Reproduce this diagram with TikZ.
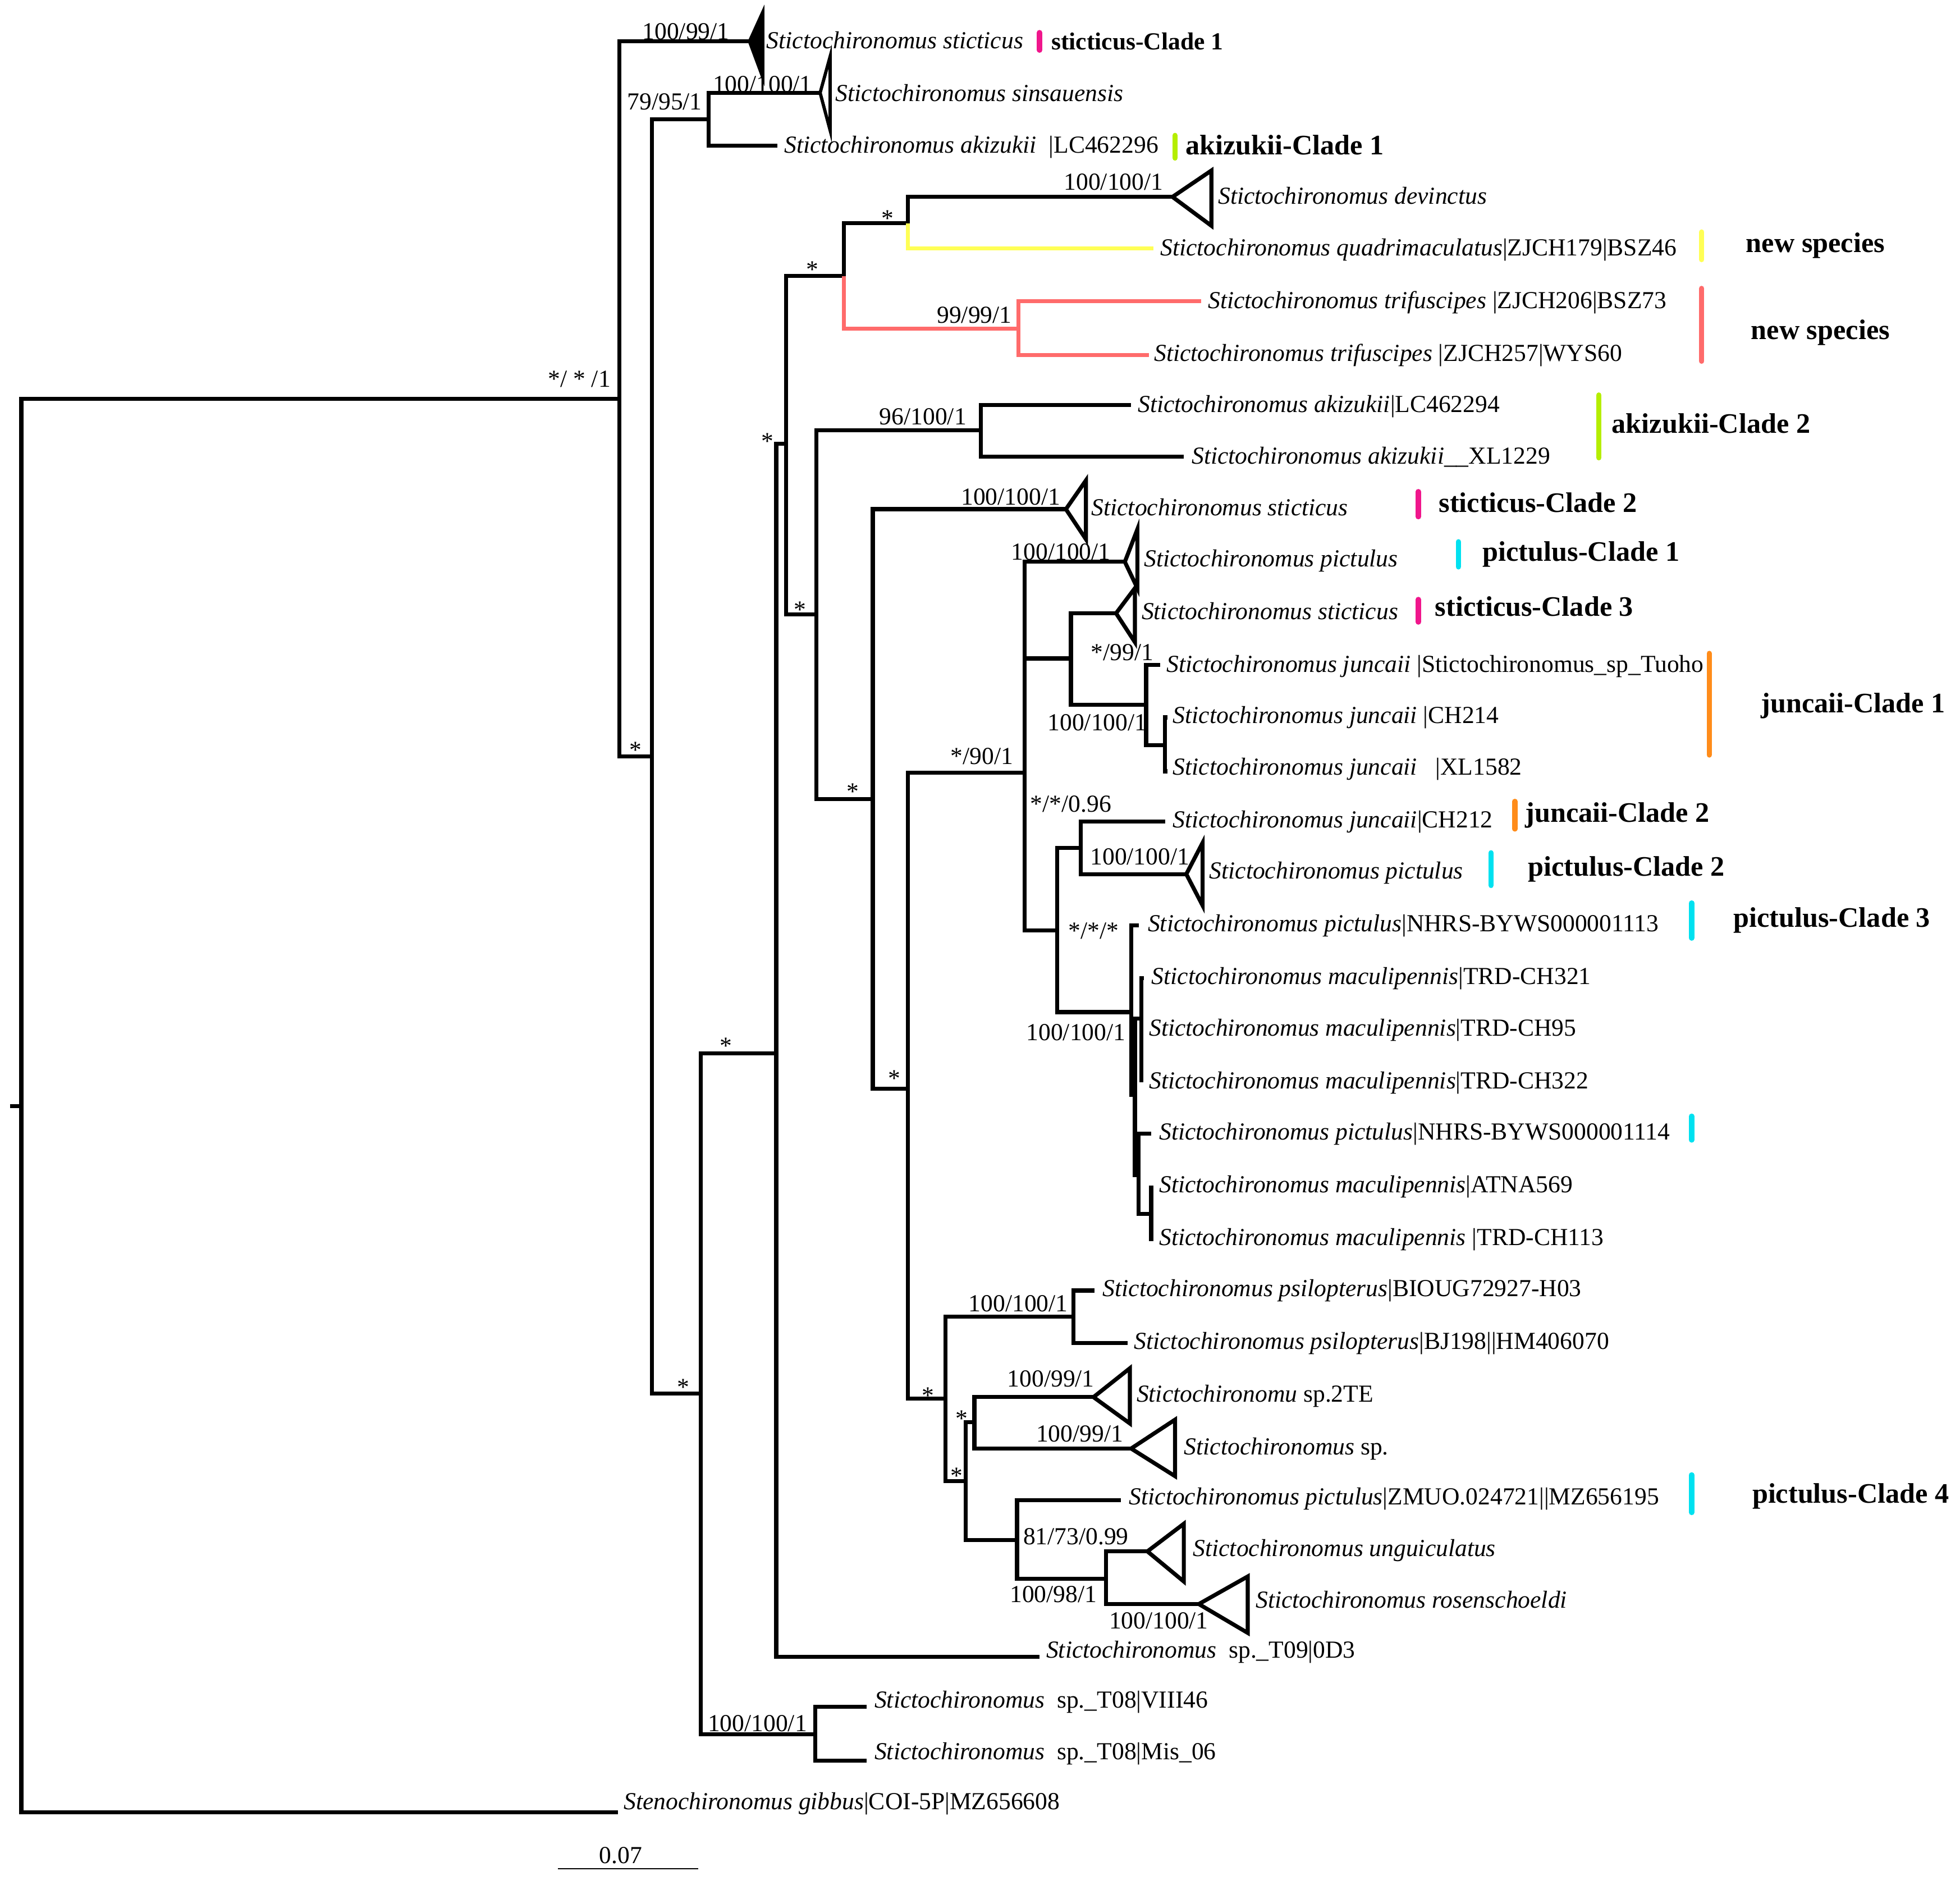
\documentclass[tikz,border=0pt]{standalone}
\usepackage{fontspec}
\setmainfont{Liberation Serif}
\definecolor{cmag}{HTML}{F0168C}
\definecolor{cgreen}{HTML}{B5EE00}
\definecolor{cyel}{HTML}{FFFF55}
\definecolor{cred}{HTML}{FF6B6B}
\definecolor{ccyan}{HTML}{00E1F0}
\definecolor{corange}{HTML}{FF8C1A}
\begin{document}
\begin{tikzpicture}[x=0.5pt,y=-0.5pt,
  br/.style={line width=1.6pt},
  tri/.style={line width=1.6pt, line join=miter},
  cbar/.style={line width=2.1pt, line cap=round},
  tx/.style={anchor=base west, yshift=-2.95pt, inner sep=0pt, font=\fontsize{9.75}{11}\selectfont},
  bs/.style={anchor=base, yshift=-3.3pt, inner sep=0pt, font=\fontsize{9.75}{11}\selectfont},
  st/.style={anchor=base, yshift=-5.2pt, inner sep=0pt, font=\fontsize{9.75}{11}\selectfont},
  cl/.style={anchor=base west, yshift=-3.7pt, inner sep=0pt, font=\fontsize{11.25}{13}\selectfont\bfseries},
  cls/.style={anchor=base west, yshift=-3.2pt, inner sep=0pt, font=\fontsize{9.75}{11}\selectfont\bfseries}]
\useasboundingbox (0,0) rectangle (1563,1502.6);
% internal nodes
\coordinate (rt) at (8,882);
\coordinate (R) at (17,882);
\coordinate (A) at (494,318);
\coordinate (B) at (520,603);
\coordinate (C) at (565,95);
\coordinate (D) at (559,1111);
\coordinate (E) at (619,840);
\coordinate (F) at (650,1383);
\coordinate (G) at (627,354);
\coordinate (H) at (673,220);
\coordinate (J) at (724,178);
\coordinate (K) at (812,262);
\coordinate (I) at (651,490);
\coordinate (L) at (782,343);
\coordinate (M) at (696,637);
\coordinate (N) at (724,868);
\coordinate (O) at (817,616);
\coordinate (Q) at (854,525);
\coordinate (S) at (914,562);
\coordinate (U) at (929,594);
\coordinate (V0) at (843,742);
\coordinate (V) at (862,676);
\coordinate (MN) at (902,807);
\coordinate (B1) at (905,873);
\coordinate (A1) at (910,812);
\coordinate (C1) at (908,937);
\coordinate (D1) at (918,968);
\coordinate (P) at (754,1115);
\coordinate (W) at (856,1050);
\coordinate (X) at (770,1181);
\coordinate (Y) at (777,1134);
\coordinate (Z) at (811,1228);
\coordinate (AA) at (882,1259);
% tips
\coordinate (t1) at (598,33);
\coordinate (t2) at (654,74);
\coordinate (l3) at (620,116);
\coordinate (t4) at (935,157);
\coordinate (l5) at (920,198);
\coordinate (l6) at (958,240);
\coordinate (l7) at (916,283);
\coordinate (l8) at (902,323);
\coordinate (l9) at (944,364);
\coordinate (t10) at (850,406);
\coordinate (t11) at (897,448);
\coordinate (t12) at (890,489);
\coordinate (l13) at (925,530);
\coordinate (l14) at (931,572);
\coordinate (l15) at (931,615);
\coordinate (l16) at (929,655);
\coordinate (t17) at (946,697);
\coordinate (l18) at (908,738);
\coordinate (l19) at (912,780);
\coordinate (l20) at (910,820);
\coordinate (l21) at (910,863);
\coordinate (l22) at (918,904);
\coordinate (l23) at (920,947);
\coordinate (l24) at (920,988);
\coordinate (l25) at (873,1029);
\coordinate (l26) at (899,1071);
\coordinate (t27) at (872,1114);
\coordinate (t28) at (902,1155);
\coordinate (l29) at (894,1196);
\coordinate (t30) at (915,1237);
\coordinate (t31) at (956,1279);
\coordinate (l32) at (829,1321);
\coordinate (l33) at (691,1361);
\coordinate (l34) at (691,1404);
\coordinate (l35) at (493,1445);
% branches
\draw[br] (rt) -- (R);
\draw[br] (R) |- (A);
\draw[br] (R) |- (l35);
\draw[br] (A) |- (t1);
\draw[br] (A) |- (B);
\draw[br] (B) |- (C);
\draw[br] (B) |- (D);
\draw[br] (C) |- (t2);
\draw[br] (C) |- (l3);
\draw[br] (D) |- (E);
\draw[br] (D) |- (F);
\draw[br] (F) |- (l33);
\draw[br] (F) |- (l34);
\draw[br] (E) |- (G);
\draw[br] (E) |- (l32);
\draw[br] (G) |- (H);
\draw[br] (G) |- (I);
\draw[br] (H) |- (J);
\draw[br,cred] (H) |- (K);
\draw[br,cred] (K) |- (l6);
\draw[br,cred] (K) |- (l7);
\draw[br] (J) |- (t4);
\draw[br,cyel] (J) |- (l5);
\draw[br] (I) |- (L);
\draw[br] (I) |- (M);
\draw[br] (L) |- (l8);
\draw[br] (L) |- (l9);
\draw[br] (M) |- (t10);
\draw[br] (M) |- (N);
\draw[br] (N) |- (O);
\draw[br] (N) |- (P);
\draw[br] (O) |- (t11);
\draw[br] (O) |- (Q);
\draw[br] (O) |- (V0);
\draw[br] (Q) |- (t12);
\draw[br] (Q) |- (S);
\draw[br] (S) |- (l13);
\draw[br] (S) |- (U);
\draw[br] (U) |- (l14);
\draw[br] (U) |- (l15);
\draw[br] (V0) |- (V);
\draw[br] (V0) |- (MN);
\draw[br] (V) |- (l16);
\draw[br] (V) |- (t17);
\draw[br] (MN) |- (l18);
\draw[br] (MN) |- (B1);
\draw[br] (B1) |- (A1);
\draw[br] (B1) |- (C1);
\draw[br] (A1) |- (l19);
\draw[br] (A1) |- (l20);
\draw[br] (A1) |- (l21);
\draw[br] (C1) |- (l22);
\draw[br] (C1) |- (D1);
\draw[br] (D1) |- (l23);
\draw[br] (D1) |- (l24);
\draw[br] (P) |- (W);
\draw[br] (P) |- (X);
\draw[br] (W) |- (l25);
\draw[br] (W) |- (l26);
\draw[br] (X) |- (Y);
\draw[br] (X) |- (Z);
\draw[br] (Y) |- (t27);
\draw[br] (Y) |- (t28);
\draw[br] (Z) |- (l29);
\draw[br] (Z) |- (AA);
\draw[br] (AA) |- (t30);
\draw[br] (AA) |- (t31);
% collapsed clades
\filldraw[tri] (t1) -- (608,11) -- (608,60) -- cycle;
\draw[tri,line width=1.3pt] (t2) -- (662,45) -- (662,104) -- cycle;
\draw[tri] (t4) -- (966,136) -- (966,180) -- cycle;
\draw[tri] (t10) -- (866,383) -- (866,430) -- cycle;
\draw[tri] (t11) -- (907,422) -- (907,469) -- cycle;
\draw[tri] (t12) -- (905,469) -- (905,512) -- cycle;
\draw[tri] (t17) -- (959,672) -- (959,722) -- cycle;
\draw[tri] (t27) -- (901,1091) -- (901,1135) -- cycle;
\draw[tri] (t28) -- (937,1132) -- (937,1177) -- cycle;
\draw[tri] (t30) -- (944,1215) -- (944,1261) -- cycle;
\draw[tri] (t31) -- (995,1257) -- (995,1302) -- cycle;
% taxon labels
\node[tx] (n1) at (611,33) {\textit{Stictochironomus sticticus}};
\node[tx] (n2) at (666,75) {\textit{Stictochironomus sinsauensis}};
\node[tx] (n3) at (625,116) {\textit{Stictochironomus akizukii}\ \ |LC462296};
\node[tx] (n4) at (971,157) {\textit{Stictochironomus devinctus}};
\node[tx] (n5) at (925,198) {\textit{Stictochironomus quadrimaculatus}|ZJCH179|BSZ46};
\node[tx] (n6) at (963,240) {\textit{Stictochironomus trifuscipes} |ZJCH206|BSZ73};
\node[tx] (n7) at (920,282) {\textit{Stictochironomus trifuscipes} |ZJCH257|WYS60};
\node[tx] (n8) at (907,323) {\textit{Stictochironomus akizukii}|LC462294};
\node[tx] (n9) at (950,364) {\textit{Stictochironomus akizukii}\_\_XL1229};
\node[tx] (n10) at (870,405) {\textit{Stictochironomus sticticus}};
\node[tx] (n11) at (912,446) {\textit{Stictochironomus pictulus}};
\node[tx] (n12) at (910,488) {\textit{Stictochironomus sticticus}};
\node[tx] (n13) at (930,530) {\textit{Stictochironomus juncaii} |Stictochironomus\_sp\_Tuoho};
\node[tx] (n14) at (935,571) {\textit{Stictochironomus juncaii} |CH214};
\node[tx] (n15) at (935,612) {\textit{Stictochironomus juncaii}\ \ \ |XL1582};
\node[tx] (n16) at (935,654) {\textit{Stictochironomus juncaii}|CH212};
\node[tx] (n17) at (964,695) {\textit{Stictochironomus pictulus}};
\node[tx] (n18) at (915,737) {\textit{Stictochironomus pictulus}|NHRS-BYWS000001113};
\node[tx] (n19) at (918,779) {\textit{Stictochironomus maculipennis}|TRD-CH321};
\node[tx] (n20) at (916,820) {\textit{Stictochironomus maculipennis}|TRD-CH95};
\node[tx] (n21) at (916,862) {\textit{Stictochironomus maculipennis}|TRD-CH322};
\node[tx] (n22) at (924,903) {\textit{Stictochironomus pictulus}|NHRS-BYWS000001114};
\node[tx] (n23) at (924,945) {\textit{Stictochironomus maculipennis}|ATNA569};
\node[tx] (n24) at (924,987) {\textit{Stictochironomus maculipennis} |TRD-CH113};
\node[tx] (n25) at (879,1028) {\textit{Stictochironomus psilopterus}|BIOUG72927-H03};
\node[tx] (n26) at (904,1070) {\textit{Stictochironomus psilopterus}|BJ198||HM406070};
\node[tx] (n27) at (906,1112) {\textit{Stictochironomu} sp.2TE};
\node[tx] (n28) at (944,1154) {\textit{Stictochironomus} sp.};
\node[tx] (n29) at (900,1194) {\textit{Stictochironomus pictulus}|ZMUO.024721||MZ656195};
\node[tx] (n30) at (951,1235) {\textit{Stictochironomus unguiculatus}};
\node[tx] (n31) at (1001,1276) {\textit{Stictochironomus rosenschoeldi}};
\node[tx] (n32) at (834,1316) {\textit{Stictochironomus}\ \ sp.\_T09|0D3};
\node[tx] (n33) at (697,1356) {\textit{Stictochironomus}\ \ sp.\_T08|VIII46};
\node[tx] (n34) at (697,1397) {\textit{Stictochironomus}\ \ sp.\_T08|Mis\_06};
\node[tx] (n35) at (497,1437) {\textit{Stenochironomus gibbus}|COI-5P|MZ656608};
% support values
\node[bs] (s1) at (547,25) {100/99/1};
\node[bs] (s2) at (608,67) {100/100/1};
\node[bs] (s3) at (530,81) {79/95/1};
\node[bs] (s4) at (888,145) {100/100/1};
\node[st] (s5) at (708,170) {*};
\node[st] (s6) at (648,211) {*};
\node[bs] (s7) at (777,251) {99/99/1};
\node[bs] (s8) at (462,302) {*/ * /1};
\node[bs] (s9) at (736,332) {96/100/1};
\node[st] (s10) at (612,348) {*};
\node[bs] (s11) at (806,396) {100/100/1};
\node[bs] (s12) at (846,440) {100/100/1};
\node[st] (s13) at (638,482) {*};
\node[bs] (s14) at (895,520) {*/99/1};
\node[bs] (s15) at (875,576) {100/100/1};
\node[st] (s16) at (507,594) {*};
\node[bs] (s17) at (783,603) {*/90/1};
\node[st] (s18) at (680,627) {*};
\node[bs] (s19) at (854,641) {*/*/0.96};
\node[bs] (s20) at (909,683) {100/100/1};
\node[bs] (s21) at (872,742) {*/*/*};
\node[bs] (s22) at (858,823) {100/100/1};
\node[st] (s23) at (579,830) {*};
\node[st] (s24) at (713,856) {*};
\node[bs] (s25) at (812,1039) {100/100/1};
\node[bs] (s26) at (838,1099) {100/99/1};
\node[st] (s27) at (545,1102) {*};
\node[st] (s28) at (740,1109) {*};
\node[st] (s29) at (767,1127) {*};
\node[bs] (s30) at (861,1143) {100/99/1};
\node[st] (s31) at (763,1173) {*};
\node[bs] (s32) at (858,1225) {81/73/0.99};
\node[bs] (s33) at (840,1271) {100/98/1};
\node[bs] (s34) at (924,1292) {100/100/1};
\node[bs] (s35) at (604,1374) {100/100/1};
% clade bars
\draw[cbar,cmag] (829,26) -- (829,40);
\draw[cbar,cgreen] (937,108) -- (937,126);
\draw[cbar,cyel] (1357,185) -- (1357,207);
\draw[cbar,cred] (1357,230) -- (1357,288);
\draw[cbar,cgreen] (1275,315) -- (1275,365);
\draw[cbar,cmag] (1131,392) -- (1131,412);
\draw[cbar,ccyan] (1163,432) -- (1163,452);
\draw[cbar,cmag] (1131,478) -- (1131,496);
\draw[cbar,corange] (1363,521) -- (1363,602);
\draw[cbar,corange] (1208,639) -- (1208,661);
\draw[cbar,ccyan] (1189,680) -- (1189,706);
\draw[cbar,ccyan] (1349,720) -- (1349,748);
\draw[cbar,ccyan] (1349,890) -- (1349,909);
\draw[cbar,ccyan] (1349,1176) -- (1349,1206);
% clade labels
\node[cls] (c1) at (838,33) {sticticus-Clade 1};
\node[cl] (c2) at (945,116) {akizukii-Clade 1};
\node[cl] (c3) at (1392,194) {new species};
\node[cl] (c4) at (1396,263) {new species};
\node[cl] (c5) at (1285,338) {akizukii-Clade 2};
\node[cl] (c6) at (1147,401) {sticticus-Clade 2};
\node[cl] (c7) at (1182,440) {pictulus-Clade 1};
\node[cl] (c8) at (1144,484) {sticticus-Clade 3};
\node[cl] (c9) at (1404,561) {juncaii-Clade 1};
\node[cl] (c10) at (1216,648) {juncaii-Clade 2};
\node[cl] (c11) at (1218,691) {pictulus-Clade 2};
\node[cl] (c12) at (1382,732) {pictulus-Clade 3};
\node[cl] (c13) at (1397,1191) {pictulus-Clade 4};
% scale bar
\coordinate (sb1) at (445,1490);
\coordinate (sb2) at (557,1490);
\draw[line width=0.5pt] (sb1) -- (sb2);
\node[bs] (sbl) at (495,1479) {0.07};
\end{tikzpicture}
\end{document}
